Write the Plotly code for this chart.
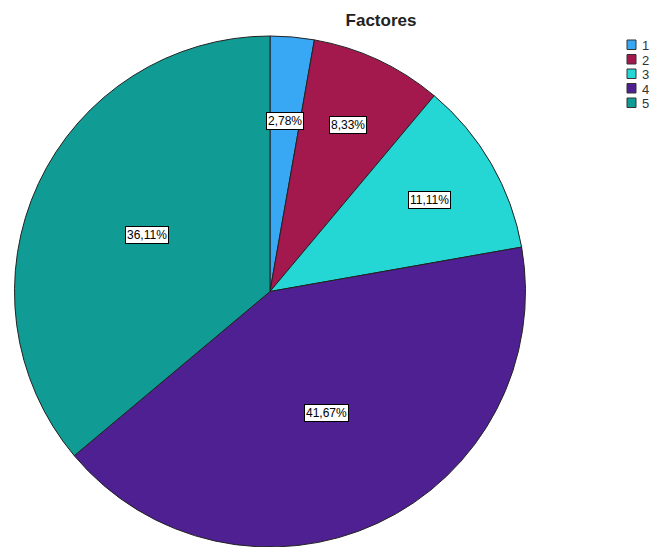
import math
import plotly.graph_objects as go

categories = ["1", "2", "3", "4", "5"]
percentages = [2.78, 8.33, 11.11, 41.67, 36.11]
colors = ["#39a8f4", "#a3194e", "#25d7d4", "#4f2091", "#109c95"]
title_text = "Factores"

W, H = 651, 547
cx, cy, R = 270, 292, 256  # pixel center / radius of pie
label_rfrac = [0.67, 0.72, 0.72, 0.52, 0.53]

fig = go.Figure()
fig.add_trace(go.Pie(
    labels=categories,
    values=percentages,
    sort=False,
    direction="clockwise",
    rotation=0,
    marker=dict(colors=colors, line=dict(color="#222222", width=1)),
    textinfo="none",
    hoverinfo="label+percent",
    showlegend=False,
    domain=dict(x=[(cx - R) / W, (cx + R) / W], y=[max(0, (H - (cy + R)) / H), (H - (cy - R)) / H]),
))

total = sum(percentages)
cum = 0.0
annotations = []
for v, rf in zip(percentages, label_rfrac):
    mid = (cum + v / 2) / total * 2 * math.pi
    cum += v
    px = cx + rf * R * math.sin(mid)
    py = cy - rf * R * math.cos(mid)
    annotations.append(dict(
        x=px / W, y=1 - py / H, xref="paper", yref="paper",
        text=f"{v:.2f}%".replace(".", ","), showarrow=False,
        font=dict(family="Liberation Sans, Arial", size=12, color="black"),
        bgcolor="white", bordercolor="black", borderwidth=1, borderpad=1,
        xanchor="center", yanchor="middle",
    ))

# manual legend (SPSS style)
shapes = []
lx0, lx1, ly0, step, sq = 627, 636, 40, 14.5, 9.5
for i, (cat, col) in enumerate(zip(categories, colors)):
    y0 = ly0 + i * step
    shapes.append(dict(type="rect", xref="paper", yref="paper",
                       x0=lx0 / W, x1=lx1 / W, y0=1 - (y0 + sq) / H, y1=1 - y0 / H,
                       fillcolor=col, line=dict(color="#333333", width=1)))
    annotations.append(dict(
        x=640 / W, y=1 - (y0 + sq / 2 + 1) / H, xref="paper", yref="paper",
        text=cat, showarrow=False, xanchor="left", yanchor="middle",
        font=dict(family="Liberation Sans, Arial", size=13, color="#333333"),
    ))

fig.update_layout(
    width=W, height=H, autosize=False,
    margin=dict(l=0, r=0, t=0, b=0),
    paper_bgcolor="white", plot_bgcolor="white",
    title=dict(text="<b>" + title_text + "</b>", x=381 / W, xanchor="center",
               y=1 - 20 / H, yanchor="middle",
               font=dict(family="Liberation Sans, Arial", size=17, color="#222222")),
    annotations=annotations,
    shapes=shapes,
    showlegend=False,
)

fig.write_html("out.html")
